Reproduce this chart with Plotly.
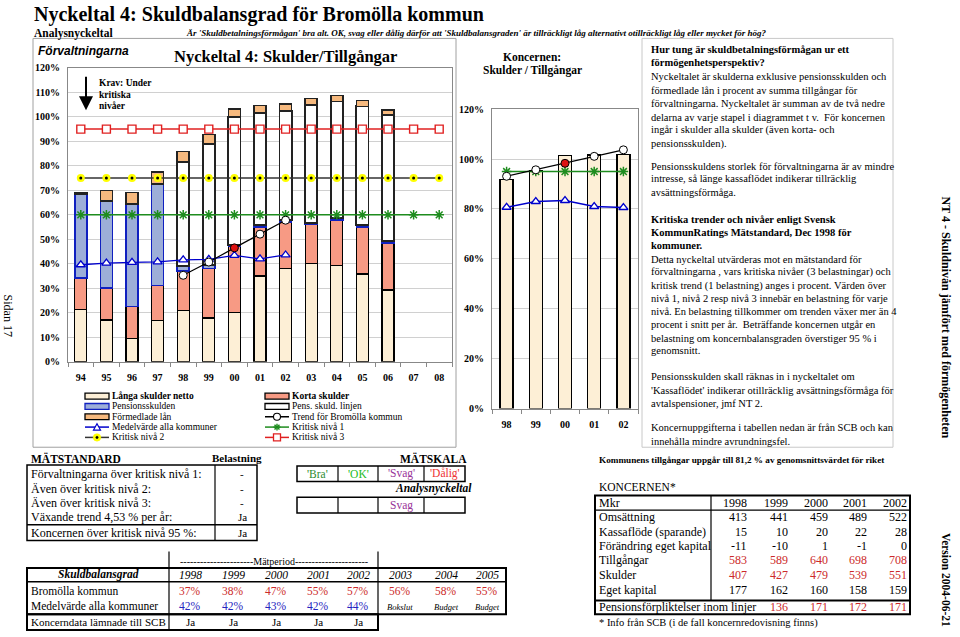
import plotly.graph_objects as go

W, H = 960, 637
SERIF = "Liberation Serif"
SANS = "Liberation Sans"

# ---------------- data: main chart (förvaltningarna), % of assets ----------------
years = ['94', '95', '96', '97', '98', '99', '00', '01', '02', '03', '04', '05', '06', '07', '08']
langa_skulder = [21.3, 17.0, 9.6, 16.7, 21.0, 17.8, 20.0, 35.0, 38.0, 40.0, 39.2, 35.8, 29.3, None, None]
korta_skulder = [13.0, 13.2, 13.0, 14.4, 16.0, 20.2, 27.0, 20.0, 19.0, 16.0, 18.8, 19.2, 19.2, None, None]
pensionsskulden = [34.0, 35.5, 41.8, 41.5, 2.0, 1.5, 0.8, 0.8, 0.8, 0.8, 0.8, 0.8, 0.8, None, None]
pens_skuld_linjen = [None, None, None, None, 42.5, 49.4, 52.2, 45.8, 44.7, 48.1, 47.5, 48.5, 51.6, None, None]
formedlade_lan = [0.6, 4.3, 4.8, 4.8, 4.3, 4.0, 3.3, 3.1, 2.7, 2.7, 2.4, 2.4, 2.0, None, None]

medel_years = ['94', '95', '96', '97', '98', '99', '00', '01', '02']
medelvarde = [39.6, 40.3, 40.6, 40.8, 41.6, 41.8, 43.4, 42.0, 43.6]

trend_years = ['98', '99', '00', '01', '02']
trend_bromolla = [35.3, 40.7, 46.5, 52.1, 57.8]
trend_marker_colors = ['white', 'white', '#DD1111', 'white', 'white']

kritisk_1 = [60, 60, 60, 60, 60, 60, 60, 60, 60, 60, 60, 60, 60, 60, 60]
kritisk_2 = [75, 75, 75, 75, 75, 75, 75, 75, 75, 75, 75, 75, 75, 75, 75]
kritisk_3 = [95, 95, 95, 95, 95, 95, 95, 95, 95, 95, 95, 95, 95, 95, 95]

# ---------------- data: koncernen chart ----------------
k_years = ['98', '99', '00', '01', '02']
k_skulder_tillg = [91.7, 95.2, 101.5, 101.7, 101.9]
k_trend = [93.1, 95.7, 98.3, 101.1, 103.7]
k_trend_colors = ['white', 'white', '#DD1111', 'white', 'white']
k_kritisk = [95, 95, 95, 95, 95]
k_medel = [80.7, 83.0, 83.4, 81.0, 80.6]

# ---------------- data: tables ----------------
ms_labels = ["Förvaltningarna över kritisk nivå 1:", "Även över kritisk nivå 2:",
             "Även över kritisk nivå 3:", "Växande trend 4,53 % per år:",
             "Koncernen över kritisk nivå 95 %:"]
ms_values = ["-", "-", "-", "Ja", "Ja"]

scale_labels = ["'Bra'", "'OK'", "'Svag'", "'Dålig'"]
scale_result = ["", "", "Svag", ""]

sb_years = ['1998', '1999', '2000', '2001', '2002', '2003', '2004', '2005']
sb_bromolla = ['37%', '38%', '47%', '55%', '57%', '56%', '58%', '55%']
sb_medel = ['42%', '42%', '43%', '42%', '44%']
sb_notes = ['Bokslut', 'Budget', 'Budget']
sb_koncerndata = ['Ja', 'Ja', 'Ja', 'Ja', 'Ja']

kt_years = ['1998', '1999', '2000', '2001', '2002']
kt_rows = [
    ("Omsättning", [413, 441, 459, 489, 522], False),
    ("Kassaflöde (sparande)", [15, 10, 20, 22, 28], False),
    ("Förändring eget kapital", [-11, -10, 1, -1, 0], False),
    ("Tillgångar", [583, 589, 640, 698, 708], True),
    ("Skulder", [407, 427, 479, 539, 551], True),
    ("Eget kapital", [177, 162, 160, 158, 159], False),
]
kt_pension = [None, 136, 171, 172, 171]

# ---------------- colours ----------------
C_LANGA = '#FDEFD6'
C_KORTA = '#F79A84'
C_PENS = '#9DAED8'
C_FORM = '#F6B97E'
C_RED_TXT = '#CC2A2A'
C_BLUE_TXT = '#2424C0'
C_GREEN = '#1E8C1E'

fig = go.Figure()

bc = dict(xaxis='x', yaxis='y', width=0.47, showlegend=False, hoverinfo='skip')
fig.add_trace(go.Bar(x=years, y=langa_skulder, marker=dict(color=C_LANGA, line=dict(color='black', width=1.3)), **bc))
fig.add_trace(go.Bar(x=years, y=korta_skulder, marker=dict(color=C_KORTA, line=dict(color='black', width=1.3)), **bc))
fig.add_trace(go.Bar(x=years, y=pensionsskulden, marker=dict(color=C_PENS, line=dict(color='#1020C0', width=1.6)), **bc))
fig.add_trace(go.Bar(x=years, y=pens_skuld_linjen, marker=dict(color='white', line=dict(color='#222222', width=1.8)), **bc))
fig.add_trace(go.Bar(x=years, y=formedlade_lan, marker=dict(color=C_FORM, line=dict(color='#222222', width=1.5)), **bc))

sc = dict(xaxis='x', yaxis='y', showlegend=False, hoverinfo='skip')
fig.add_trace(go.Scatter(x=medel_years, y=medelvarde, mode='lines+markers',
                         line=dict(color='#0000CC', width=1.3),
                         marker=dict(symbol='triangle-up', size=8, color='white', line=dict(color='#0000CC', width=1.3)), **sc))
fig.add_trace(go.Scatter(x=years, y=kritisk_1, mode='lines+markers', line=dict(color=C_GREEN, width=1.5),
                         marker=dict(symbol='asterisk-open', size=8, line=dict(color=C_GREEN, width=1.5)), **sc))
fig.add_trace(go.Scatter(x=years, y=kritisk_2, mode='lines+markers', line=dict(color='#333333', width=1.5),
                         marker=dict(symbol='circle', size=8, color='#FFFF00', line=dict(width=0)), **sc))
fig.add_trace(go.Scatter(x=years, y=kritisk_2, mode='markers',
                         marker=dict(symbol='circle', size=3, color='black'), **sc))
fig.add_trace(go.Scatter(x=years, y=kritisk_3, mode='lines+markers', line=dict(color='#E02020', width=1.5),
                         marker=dict(symbol='square', size=8, color='white', line=dict(color='#E02020', width=1.4)), **sc))
fig.add_trace(go.Scatter(x=trend_years, y=trend_bromolla, mode='lines+markers', line=dict(color='black', width=1.2),
                         marker=dict(symbol='circle', size=8, color=trend_marker_colors, line=dict(color='black', width=1)), **sc))

# koncernen chart
fig.add_trace(go.Bar(x=k_years, y=k_skulder_tillg, xaxis='x2', yaxis='y2', width=0.44, showlegend=False, hoverinfo='skip',
                     marker=dict(color=C_LANGA, line=dict(color='black', width=1.4))))
sc2 = dict(xaxis='x2', yaxis='y2', showlegend=False, hoverinfo='skip')
fig.add_trace(go.Scatter(x=k_years, y=k_medel, mode='lines+markers', line=dict(color='#0000CC', width=1.3),
                         marker=dict(symbol='triangle-up', size=8, color='white', line=dict(color='#0000CC', width=1.3)), **sc2))
fig.add_trace(go.Scatter(x=k_years, y=k_kritisk, mode='lines+markers', line=dict(color=C_GREEN, width=1.5),
                         marker=dict(symbol='asterisk-open', size=8, line=dict(color=C_GREEN, width=1.5)), **sc2))
fig.add_trace(go.Scatter(x=k_years, y=k_trend, mode='lines+markers', line=dict(color='black', width=1.2),
                         marker=dict(symbol='circle', size=8, color=k_trend_colors, line=dict(color='black', width=1)), **sc2))

# ---------------- helpers ----------------
ann = []
shp = []


def X(x):
    return x / W


def Y(y):
    return 1 - y / H


def text(x, y, s, size=11, bold=False, italic=False, color='black', xa='left', ya='middle', family=SERIF, angle=0):
    ann.append(dict(x=X(x), y=Y(y), xref='paper', yref='paper', text=s, showarrow=False,
                    xanchor=xa, yanchor=ya, textangle=angle, borderpad=0,
                    font=dict(family=family, size=size, color=color,
                              weight='bold' if bold else 'normal',
                              style='italic' if italic else 'normal')))


def rect(x0, y0, x1, y1, color='black', lw=1, fill='rgba(0,0,0,0)'):
    shp.append(dict(type='rect', xref='paper', yref='paper', x0=X(x0), x1=X(x1), y0=Y(y1), y1=Y(y0),
                    line=dict(color=color, width=lw), fillcolor=fill))


def seg(x0, y0, x1, y1, color='black', lw=1):
    shp.append(dict(type='line', xref='paper', yref='paper', x0=X(x0), x1=X(x1), y0=Y(y0), y1=Y(y1),
                    line=dict(color=color, width=lw)))


def circ(cx, cy, r, color='black', lw=1, fill='white'):
    shp.append(dict(type='circle', xref='paper', yref='paper', x0=X(cx - r), x1=X(cx + r), y0=Y(cy + r), y1=Y(cy - r),
                    line=dict(color=color, width=lw), fillcolor=fill))


def poly(pts, color='black', lw=1, fill='white'):
    p = 'M ' + ' L '.join(f'{X(a):.5f},{Y(b):.5f}' for a, b in pts) + ' Z'
    shp.append(dict(type='path', xref='paper', yref='paper', path=p, line=dict(color=color, width=lw), fillcolor=fill))


# ---------------- page header ----------------
text(33, 10, "Nyckeltal 4: Skuldbalansgrad för Bromölla kommun", size=20, bold=True)
text(33, 28.5, "Analysnyckeltal", size=11.5, bold=True)
text(185, 28.5, "Är 'Skuldbetalningsförmågan' bra alt. OK, svag eller dålig därför att 'Skuldbalansgraden' är tillräckligt låg alternativt otillräckligt låg eller mycket för hög?",
     size=9, bold=True, italic=True)

# frames
rect(33, 34, 456, 450, color='#A0A0A0', lw=1)
rect(642, 34, 893, 450, color='#C8C8C8', lw=1)

# main chart texts
text(37, 47, "Förvaltningarna", size=12, bold=True, italic=True, family=SANS)
text(285, 52, "Nyckeltal 4: Skulder/Tillgångar", size=16.5, bold=True, xa='center')
text(98, 79, "Krav: Under", size=9.5, bold=True)
text(98, 91.5, "kritiska", size=9.5, bold=True)
text(98, 103, "nivåer", size=9.5, bold=True)
ann.append(dict(x=X(86), y=Y(107), xref='paper', yref='paper', ax=0, ay=-35, text='', showarrow=True,
                arrowhead=2, arrowsize=1.4, arrowwidth=2, arrowcolor='black'))

# legend (manual, two columns)
rows = [398, 408.5, 419, 429.5, 440]
for cx, items in ((85, [('rect', C_LANGA, 'black', "Långa skulder netto", True),
                        ('rect', C_PENS, '#1020C0', "Pensionsskulden", False),
                        ('rect', C_FORM, 'black', "Förmedlade lån", False),
                        ('tri', None, '#0000CC', "Medelvärde alla kommuner", False),
                        ('dot', None, '#333333', "Kritisk nivå 2", False)]),
                  (265, [('rect', C_KORTA, 'black', "Korta skulder", True),
                         ('rect', 'white', 'black', "Pens. skuld. linjen", False),
                         ('circ', None, 'black', "Trend för Bromölla kommun", False),
                         ('ast', None, C_GREEN, "Kritisk nivå 1", False),
                         ('sq', None, '#E02020', "Kritisk nivå 3", False)])):
    for ry, (kind, fill, col, lab, b) in zip(rows, items):
        mx = cx + 12
        if kind == 'rect':
            rect(cx, ry - 3, cx + 24, ry + 3, color=col, lw=1.3, fill=fill)
        else:
            seg(cx, ry, cx + 24, ry, color=col, lw=1.5)
            if kind == 'tri':
                poly([(mx - 3.5, ry + 3), (mx + 3.5, ry + 3), (mx, ry - 3.5)], color=col, lw=1.2)
            elif kind == 'dot':
                circ(mx, ry, 3.8, color='#FFFF00', lw=0.5, fill='#FFFF00')
                circ(mx, ry, 1.2, color='black', lw=0.5, fill='black')
            elif kind == 'circ':
                circ(mx, ry, 3.5, color='black', lw=1.1, fill='white')
            elif kind == 'ast':
                seg(mx - 3.5, ry, mx + 3.5, ry, color=col, lw=1.4)
                seg(mx, ry - 3.5, mx, ry + 3.5, color=col, lw=1.4)
                seg(mx - 2.5, ry - 2.5, mx + 2.5, ry + 2.5, color=col, lw=1.4)
                seg(mx - 2.5, ry + 2.5, mx + 2.5, ry - 2.5, color=col, lw=1.4)
            elif kind == 'sq':
                rect(mx - 3.5, ry - 3.5, mx + 3.5, ry + 3.5, color=col, lw=1.3, fill='white')
        text(cx + 26, ry, lab, size=9.5, bold=b)

# koncernen chart title
text(532, 53, "Koncernen:", size=11.5, bold=True, xa='center')
text(532, 67, "Skulder / Tillgångar", size=11.5, bold=True, xa='center')

# right text panel
panel_lines = [
    (45, "Hur tung är skuldbetalningsförmågan ur ett", True),
    (59, "förmögenhetsperspektiv?", True),
    (73, "Nyckeltalet är skulderna exklusive pensionsskulden och", False),
    (87, "förmedlade lån i procent av summa tillgångar för", False),
    (100, "förvaltningarna. Nyckeltalet är summan av de två nedre", False),
    (114, "delarna av varje stapel i diagrammet t v.  För koncernen", False),
    (127, "ingår i skulder alla skulder (även korta- och", False),
    (141, "pensionsskulden).", False),
    (164, "Pensionsskuldens storlek för förvaltningarna är av mindre", False),
    (177, "intresse, så länge kassaflödet indikerar tillräcklig", False),
    (191, "avsättningsförmåga.", False),
    (218, "Kritiska trender och nivåer enligt Svensk", True),
    (232, "KommunRatings Mätstandard, Dec 1998 för", True),
    (245, "kommuner.", True),
    (259, "Detta nyckeltal utvärderas mot en mätstandard för", False),
    (272, "förvaltningarna , vars kritiska nivåer (3 belastningar) och", False),
    (286, "kritisk trend (1 belastning) anges i procent. Värden över", False),
    (299, "nivå 1, nivå 2 resp nivå 3 innebär en belastning för varje", False),
    (312, "nivå. En belastning tillkommer om trenden växer mer än 4", False),
    (325, "procent i snitt per år.  Beträffande koncernen utgår en", False),
    (339, "belastning om koncernbalansgraden överstiger 95 % i", False),
    (352, "genomsnitt.", False),
    (378, "Pensionsskulden skall räknas in i nyckeltalet om", False),
    (392, "'Kassaflödet' indikerar otillräcklig avsättningsförmåga för", False),
    (405, "avtalspensioner, jmf NT 2.", False),
    (430, "Koncernuppgifterna i tabellen nedan är från SCB och kan", False),
    (444, "innehålla mindre avrundningsfel.", False),
]
for ly, s, b in panel_lines:
    text(650, ly, s, size=10.5, bold=b)

# side texts
text(8, 316, "Sidan 17", size=12, xa='center', angle=90)
text(946, 318, "NT 4 - Skuldnivån jämfört med förmögenheten", size=12, bold=True, xa='center', angle=90)
text(946, 585, "Version 2004-06-21", size=11.5, bold=True, xa='center', angle=90)

# ---------------- MÄTSTANDARD ----------------
text(30, 461, "MÄTSTANDARD", size=11.5, bold=True)
text(237, 461, "Belastning", size=11, bold=True, xa='center')
rect(27, 468, 257, 545, lw=1.5)
seg(215, 468, 215, 545, lw=1.2)
seg(27, 529, 257, 529, lw=1.5)
for yy, lab, val in zip([477, 492, 507, 521, 537], ms_labels, ms_values):
    text(30, yy, lab, size=12)
    text(242, yy, val, size=11, xa='center')

# ---------------- MÄTSKALA ----------------
text(433, 461, "MÄTSKALA", size=11.5, bold=True, xa='center')
cell_x = [297, 338, 378, 424, 465]
scale_colors = ['#2E8B2E', '#22BB22', '#993399', '#EE3333']
rect(297, 469, 465, 485, lw=1.5)
rect(297, 501, 465, 517, lw=1.5)
for cxx in cell_x[1:-1]:
    seg(cxx, 469, cxx, 485, lw=1.2)
    seg(cxx, 501, cxx, 517, lw=1.2)
for i in range(4):
    mid = (cell_x[i] + cell_x[i + 1]) / 2
    text(mid, 477, scale_labels[i], size=11.5, color=scale_colors[i], xa='center')
    if scale_result[i]:
        text(mid, 509, scale_result[i], size=11.5, color=scale_colors[i], xa='center')
text(433, 492, "Analysnyckeltal", size=11.5, bold=True, italic=True, xa='center')

# ---------------- Skuldbalansgrad table ----------------
col_c = [190, 233, 276, 318, 358, 400, 446, 487]
seg(169, 556, 169, 573, lw=1.2)
seg(378, 556, 378, 573, lw=1.2)
text(274, 566, "----------------------Mätperiod----------------------", size=10, xa='center')
rect(27, 573, 506, 620, lw=2)
seg(27, 587, 506, 587, lw=1.5)
seg(169, 573, 169, 636, lw=1.2)
seg(378, 573, 378, 620, lw=1.2)
rect(27, 620, 378, 636, lw=2)
text(98, 580, "Skuldbalansgrad", size=11.5, bold=True, italic=True, xa='center')
for c, yr in zip(col_c, sb_years):
    text(c, 580, yr, size=11.5, italic=True, xa='center')
text(30, 596, "Bromölla kommun", size=11.5)
text(30, 612, "Medelvärde alla kommuner", size=11.5)
text(30, 628, "Koncerndata lämnade till SCB", size=11)
for c, v in zip(col_c, sb_bromolla):
    text(c, 596, v, size=11.5, color=C_RED_TXT, xa='center')
for c, v in zip(col_c[:5], sb_medel):
    text(c, 612, v, size=11.5, color=C_BLUE_TXT, xa='center')
for c, v in zip(col_c[5:], sb_notes):
    text(c, 613, v, size=8.5, italic=True, xa='center')
for c, v in zip(col_c[:5], sb_koncerndata):
    text(c, 628, v, size=11, xa='center')

# ---------------- KONCERNEN table ----------------
text(598, 463, "Kommunens tillgångar uppgår till 81,2 % av genomsnittsvärdet för riket", size=9.2, bold=True)
text(598, 490, "KONCERNEN*", size=11.5)
col_r = [748, 789, 829, 868, 908]
rect(595, 499, 910, 620, lw=2)
seg(595, 514, 910, 514, lw=1.2)
seg(711, 499, 711, 606, lw=1.2)
seg(595, 606, 910, 606, lw=2)
text(598, 507, "Mkr", size=12)
for c, yr in zip(col_r, kt_years):
    text(c, 507, yr, size=12, xa='right')
row_y = [521, 536, 551, 565, 580, 595]
for ry, (lab, vals, red) in zip(row_y, kt_rows):
    text(598, ry, lab, size=12)
    for c, v in zip(col_r, vals):
        text(c, ry, str(v), size=12, xa='right', color=C_RED_TXT if red else 'black')
text(598, 613, "Pensionsförpliktelser inom linjer", size=12)
for c, v in zip(col_r, kt_pension):
    if v is not None:
        text(c, 613, str(v), size=12, xa='right', color=C_RED_TXT)
text(598, 629, "* Info från SCB (i de fall koncernredovisning finns)", size=10.5)

# ---------------- layout ----------------
tickf = dict(family=SERIF, size=10, color='black', weight='bold')
fig.update_layout(
    width=W, height=H, margin=dict(l=0, r=0, t=0, b=0),
    paper_bgcolor='white', plot_bgcolor='white',
    barmode='stack', showlegend=False,
    xaxis=dict(domain=[68 / W, 452 / W], anchor='y', type='category', categoryorder='array', categoryarray=years,
               range=[-0.5, 14.5], showline=True, linecolor='#888888', linewidth=1, mirror=True,
               ticks='outside', tickson='boundaries', ticklen=4, tickcolor='#888888', ticklabelstandoff=6,
               tickfont=tickf, showgrid=False, zeroline=False),
    yaxis=dict(domain=[1 - 363 / H, 1 - 64 / H], anchor='x', range=[0, 120], dtick=10, ticksuffix='%',
               showgrid=True, gridcolor='#D0D0D0', gridwidth=1, showline=True, linecolor='#888888', mirror=True,
               ticks='outside', ticklen=5, tickcolor='rgba(0,0,0,0)', tickfont=tickf, zeroline=False),
    xaxis2=dict(domain=[492 / W, 638 / W], anchor='y2', type='category', categoryorder='array', categoryarray=k_years,
                range=[-0.5, 4.5], showline=True, linecolor='#888888', linewidth=1, mirror=True,
                ticks='outside', tickson='boundaries', ticklen=4, tickcolor='#888888', ticklabelstandoff=6,
                tickfont=tickf, showgrid=False, zeroline=False),
    yaxis2=dict(domain=[1 - 410.7 / H, 1 - 106 / H], anchor='x2', range=[0, 120], dtick=20, ticksuffix='%',
                showgrid=True, gridcolor='#D0D0D0', gridwidth=1, showline=True, linecolor='#888888', mirror=True,
                ticks='outside', ticklen=5, tickcolor='rgba(0,0,0,0)', tickfont=tickf, zeroline=False),
    annotations=ann, shapes=shp,
)

fig.write_html("out.html", config={'displayModeBar': False},
               post_script="document.body.style.margin='0';document.body.style.overflow='hidden';")
